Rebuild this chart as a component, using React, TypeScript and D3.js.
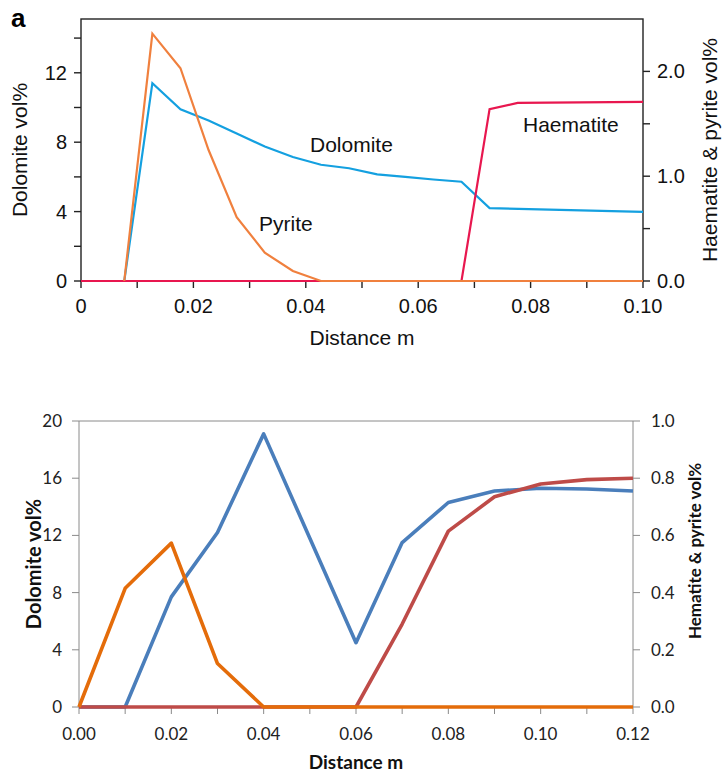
import React from "react";
import * as d3 from "d3";

// ---------- Panel a (top) data ----------
const topDolomiteX = [0.0077, 0.0127, 0.0177, 0.0227, 0.0277, 0.0327, 0.0377, 0.0427, 0.0477, 0.0527, 0.0577, 0.0627, 0.0677, 0.0727, 0.1];
const topDolomite = [0, 11.4, 9.9, 9.25, 8.5, 7.75, 7.15, 6.7, 6.5, 6.15, 6.0, 5.85, 5.72, 4.2, 3.98];
const topPyriteX = [0.0077, 0.0127, 0.0177, 0.0227, 0.0277, 0.0327, 0.0377, 0.0427, 0.1];
const topPyrite = [0, 2.36, 2.03, 1.25, 0.61, 0.27, 0.095, 0, 0];
const topHaematiteX = [0, 0.0677, 0.0727, 0.0777, 0.1];
const topHaematite = [0, 0, 1.64, 1.7, 1.71];
const topXTicks = [0, 0.01, 0.02, 0.03, 0.04, 0.05, 0.06, 0.07, 0.08, 0.09, 0.1];
const topXLabels = ["0", "0.02", "0.04", "0.06", "0.08", "0.10"];
const topLeftTicks = [0, 2, 4, 6, 8, 10, 12, 14];
const topLeftLabels = ["0", "4", "8", "12"];
const topRightTicks = [0, 0.5, 1, 1.5, 2];
const topRightLabels = ["0.0", "1.0", "2.0"];

// ---------- Bottom panel data ----------
const botX = [0, 0.01, 0.02, 0.03, 0.04, 0.05, 0.06, 0.07, 0.08, 0.09, 0.1, 0.11, 0.12];
const botDolomite = [0, 0, 7.7, 12.2, 19.1, 11.8, 4.5, 11.5, 14.3, 15.1, 15.3, 15.25, 15.1];
const botHematite = [0, 0, 0, 0, 0, 0, 0, 0.29, 0.615, 0.735, 0.78, 0.795, 0.8];
const botPyrite = [0, 0.415, 0.573, 0.152, 0, 0, 0, 0, 0, 0, 0, 0, 0];
const botXLabels = ["0.00", "0.02", "0.04", "0.06", "0.08", "0.10", "0.12"];
const botLeftLabels = ["0", "4", "8", "12", "16", "20"];
const botRightLabels = ["0.0", "0.2", "0.4", "0.6", "0.8", "1.0"];

const TOP_FONT = "'Liberation Sans', Arial, Helvetica, sans-serif";
const BOT_FONT = "Lato, 'Open Sans', sans-serif";

function Top() {
  const x = d3.scaleLinear().domain([0, 0.1]).range([81, 643]);
  const yL = d3.scaleLinear().domain([0, 15.1]).range([281, 19]);
  const yR = d3.scaleLinear().domain([0, 2.5]).range([281, 19]);
  const lineL = (xs: number[], ys: number[]) =>
    d3.line<number>().x((_, i) => x(xs[i])).y((d) => yL(d))(ys) || "";
  const lineR = (xs: number[], ys: number[]) =>
    d3.line<number>().x((_, i) => x(xs[i])).y((d) => yR(d))(ys) || "";
  const axisColor = "#222";
  return (
    <g fontFamily={TOP_FONT}>
      <text x={11} y={27} fontSize={26} fontWeight="bold">a</text>
      <rect x={81} y={19} width={562} height={262} fill="none" stroke={axisColor} strokeWidth={1.4} />
      {topLeftTicks.map((t) => (
        <line key={"l" + t} x1={74} x2={81} y1={yL(t)} y2={yL(t)} stroke={axisColor} strokeWidth={1.4} />
      ))}
      {topLeftLabels.map((l) => (
        <text key={"ll" + l} x={67} y={yL(+l)} dy="0.35em" textAnchor="end" fontSize={20} fill="#111">{l}</text>
      ))}
      {topRightTicks.map((t) => (
        <line key={"r" + t} x1={643} x2={650} y1={yR(t)} y2={yR(t)} stroke={axisColor} strokeWidth={1.4} />
      ))}
      {topRightLabels.map((l) => (
        <text key={"rl" + l} x={657} y={yR(+l)} dy="0.35em" textAnchor="start" fontSize={20} fill="#111">{l}</text>
      ))}
      {topXTicks.map((t) => (
        <line key={"x" + t} x1={x(t)} x2={x(t)} y1={281} y2={288} stroke={axisColor} strokeWidth={1.4} />
      ))}
      {topXLabels.map((l) => (
        <text key={"xl" + l} x={x(+l)} y={313} textAnchor="middle" fontSize={20} fill="#111">{l}</text>
      ))}
      <text x={362} y={345} textAnchor="middle" fontSize={21} fill="#111">Distance m</text>
      <text transform="translate(27,150) rotate(-90)" textAnchor="middle" fontSize={21} fill="#111">Dolomite vol%</text>
      <text transform="translate(717,150) rotate(-90)" textAnchor="middle" fontSize={21} fill="#111">Haematite &amp; pyrite vol%</text>
      <path d={lineL(topDolomiteX, topDolomite)} fill="none" stroke="#14a0e0" strokeWidth={2.2} />
      <path d={lineR(topHaematiteX, topHaematite)} fill="none" stroke="#e8174f" strokeWidth={2.2} />
      <path d={lineR(topPyriteX, topPyrite)} fill="none" stroke="#f0803e" strokeWidth={2.2} />
      <text x={310} y={152} fontSize={21} fill="#111">Dolomite</text>
      <text x={259} y={231} fontSize={21} fill="#111">Pyrite</text>
      <text x={523} y={132} fontSize={21} fill="#111">Haematite</text>
    </g>
  );
}

function Bottom() {
  const x = d3.scaleLinear().domain([0, 0.12]).range([79, 633]);
  const yL = d3.scaleLinear().domain([0, 20]).range([707, 421]);
  const yR = d3.scaleLinear().domain([0, 1]).range([707, 421]);
  const lineL = d3.line<number>().x((_, i) => x(botX[i])).y((d) => yL(d));
  const lineR = d3.line<number>().x((_, i) => x(botX[i])).y((d) => yR(d));
  const ax = "#8a8a8a";
  return (
    <g fontFamily={BOT_FONT}>
      <line x1={79} x2={633} y1={421} y2={421} stroke={ax} strokeWidth={1} />
      <line x1={79} x2={79} y1={421} y2={707} stroke={ax} strokeWidth={1} />
      <line x1={633} x2={633} y1={421} y2={707} stroke={ax} strokeWidth={1} />
      <line x1={79} x2={633} y1={707} y2={707} stroke={ax} strokeWidth={1} />
      {botLeftLabels.map((l) => (
        <g key={"l" + l}>
          <line x1={72} x2={79} y1={yL(+l)} y2={yL(+l)} stroke={ax} />
          <text x={62} y={yL(+l)} dy="0.35em" textAnchor="end" fontSize={17} fill="#222">{l}</text>
        </g>
      ))}
      {botRightLabels.map((l) => (
        <g key={"r" + l}>
          <line x1={633} x2={640} y1={yR(+l)} y2={yR(+l)} stroke={ax} />
          <text x={651} y={yR(+l)} dy="0.35em" textAnchor="start" fontSize={17} fill="#222">{l}</text>
        </g>
      ))}
      {botX.map((t) => (
        <line key={"x" + t} x1={x(t)} x2={x(t)} y1={707} y2={714} stroke={ax} />
      ))}
      {botXLabels.map((l) => (
        <text key={"xl" + l} x={x(+l)} y={740} textAnchor="middle" fontSize={17} fill="#222">{l}</text>
      ))}
      <text x={356} y={769} textAnchor="middle" fontSize={19} fontWeight="bold" fill="#111">Distance m</text>
      <text transform="translate(41,564) rotate(-90)" textAnchor="middle" fontSize={20} fontWeight="bold" fill="#111">Dolomite vol%</text>
      <text transform="translate(701,551) rotate(-90)" textAnchor="middle" fontSize={17} fontWeight="bold" fill="#111">Hematite &amp; pyrite vol%</text>
      <path d={lineL(botDolomite) || ""} fill="none" stroke="#4a7ebb" strokeWidth={3.6} strokeLinejoin="round" />
      <path d={lineR(botHematite) || ""} fill="none" stroke="#be4b48" strokeWidth={3.6} strokeLinejoin="round" />
      <path d={lineR(botPyrite) || ""} fill="none" stroke="#e46c0a" strokeWidth={3.6} strokeLinejoin="round" />
    </g>
  );
}

export default function App() {
  return (
    <svg width={722} height={774} style={{ position: "absolute", left: 0, top: 0, background: "#fff" }}>
      <rect width={722} height={774} fill="#fff" />
      <Top />
      <Bottom />
    </svg>
  );
}
